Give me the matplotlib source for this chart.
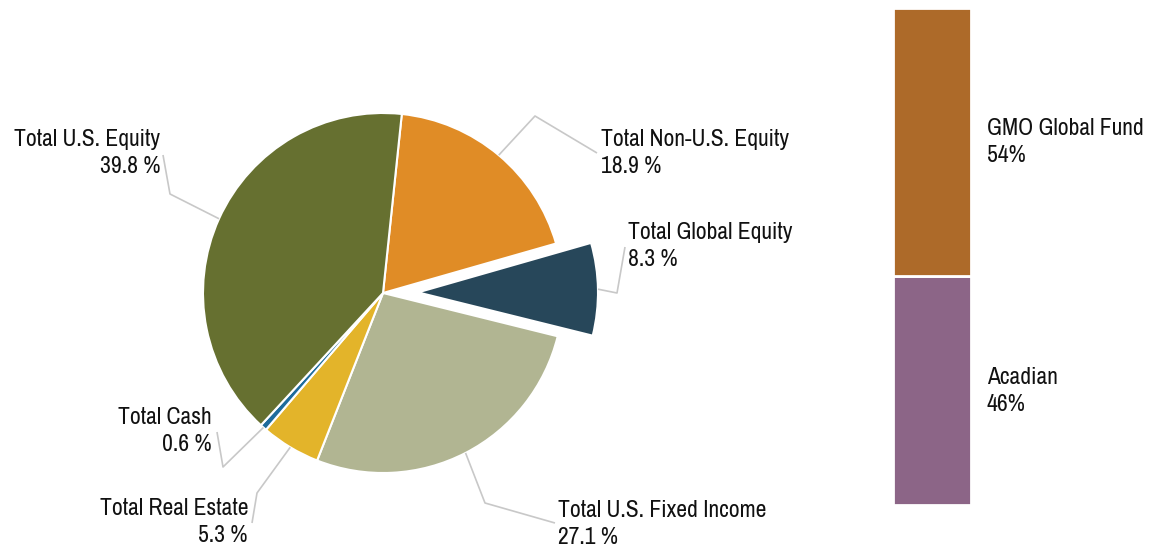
import matplotlib.pyplot as plt
import numpy as np

# asset allocation
categories = ["Total Non-U.S. Equity", "Total Global Equity", "Total U.S. Fixed Income",
              "Total Real Estate", "Total Cash", "Total U.S. Equity"]
weights = [18.9, 8.3, 27.1, 5.3, 0.6, 39.8]
colors = ["#E08C26", "#27475A", "#B1B592", "#E3B42A", "#1E6B9C", "#667030"]

# global equity managers
managers = ["Acadian", "GMO Global Fund"]
manager_weights = [46, 54]
manager_colors = ["#8C6587", "#AD6A29"]

W, H = 1152, 550
FONT = ["Archivo Narrow", "Liberation Sans"]
FS = 17
LS = 1.37
LINE = "#C8C8C8"

# label layout: elbow point, line end, text anchor, alignment (pixel coords, y down)
label_layout = {
    "Total Non-U.S. Equity": ((535, 116), (597, 153), (601, 153), "left"),
    "Total Global Equity": ((617, 293), (625, 247), (628, 246), "left"),
    "Total U.S. Fixed Income": ((485, 503), (555, 523), (558, 524), "left"),
    "Total Real Estate": ((257, 493), (252, 523), (248, 522), "right"),
    "Total Cash": ((223, 467), (217, 432), (212, 431), "right"),
    "Total U.S. Equity": ((170, 194), (163, 155), (160, 153), "right"),
}


def Y(y):
    return H - y


fig = plt.figure(figsize=(W / 100, H / 100), dpi=100)
ax = fig.add_axes([0, 0, 1, 1])

cx, cy, r = 383, Y(293), 180
# pie explode is in data units here, not scaled by radius
explode = [35 if c == "Total Global Equity" else 0 for c in categories]
wedges, _ = ax.pie(weights, colors=colors, startangle=84, counterclock=False,
                   center=(cx, cy), radius=r, explode=explode,
                   wedgeprops=dict(edgecolor="white", linewidth=1.5))
ax.set_xlim(0, W)
ax.set_ylim(0, H)
ax.set_aspect("equal")
ax.axis("off")

for w, cat, val in zip(wedges, categories, weights):
    mid = np.deg2rad((w.theta1 + w.theta2) / 2)
    wx, wy = w.center
    start = (wx + w.r * np.cos(mid), wy + w.r * np.sin(mid))
    elbow, end, txt, ha = label_layout[cat]
    ax.plot([start[0], elbow[0], end[0]], [start[1], Y(elbow[1]), Y(end[1])],
            color=LINE, lw=1.2, solid_capstyle="butt")
    ax.text(txt[0], Y(txt[1]), f"{cat}\n{val:.1f} %", ha=ha, va="center",
            fontsize=FS, family=FONT, color="#111111", linespacing=LS)

# stacked bar for the global equity managers
bx = fig.add_axes([893 / W, (H - 505) / H, 78 / W, 497 / H])
bottom = 0
for name, val, col in zip(managers, manager_weights, manager_colors):
    bx.bar(0, val, bottom=bottom, width=1, color=col, edgecolor="white", linewidth=2)
    bx.text(0.705, bottom + val / 2, f"{name}\n{val}%", ha="left", va="center",
            fontsize=FS, family=FONT, color="#111111", linespacing=LS, clip_on=False)
    bottom += val
bx.set_xlim(-0.5, 0.5)
bx.set_ylim(0, 100)
bx.axis("off")

fig.savefig("out.png", dpi=100)
